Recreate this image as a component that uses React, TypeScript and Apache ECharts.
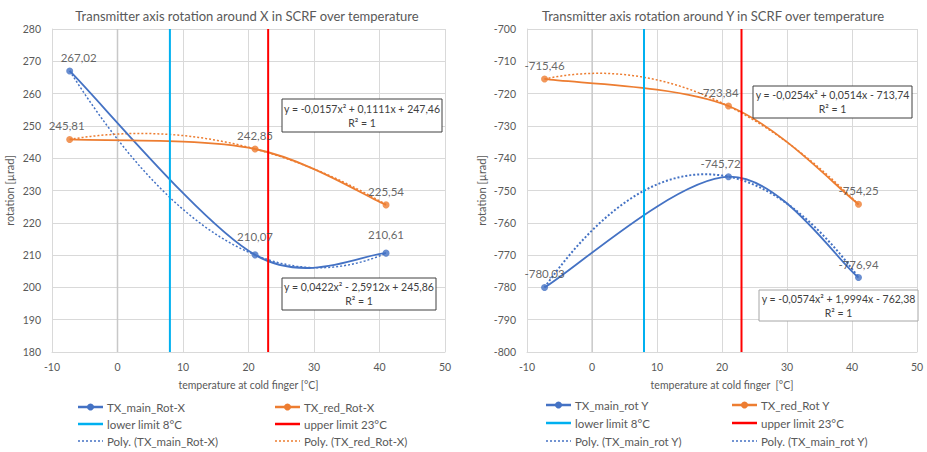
import React, { useEffect, useRef } from "react";
import * as echarts from "echarts";

// ---------- data ----------
const temps = [-7.3, 21, 41];
const txMainRotX = [267.02, 210.07, 210.61];
const txRedRotX = [245.81, 242.85, 225.54];
const txMainRotY = [-780.03, -745.72, -776.94];
const txRedRotY = [-715.46, -723.84, -754.25];
const lowerLimit = 8;
const upperLimit = 23;
// trendline coefficients as displayed on the chart: a*x^2 + b*x + c
const polyMainX = [0.0422, -2.5912, 245.86];
const polyRedX = [-0.0157, 0.1111, 247.46];
const polyMainY = [-0.0574, 1.9994, -762.38];
const polyRedY = [-0.0254, 0.0514, -713.74];
const eqMainX = ["y = 0,0422x² - 2,5912x + 245,86", "R² = 1"];
const eqRedX = ["y = -0,0157x² + 0,1111x + 247,46", "R² = 1"];
const eqMainY = ["y = -0,0574x² + 1,9994x - 762,38", "R² = 1"];
const eqRedY = ["y = -0,0254x² + 0,0514x - 713,74", "R² = 1"];
const xRange = [-10, 50];
const yRangeX = [180, 280];
const yRangeY = [-800, -700];
const tickStep = 10;

const titles = [
  "Transmitter axis rotation around X in SCRF over temperature",
  "Transmitter axis rotation around Y in SCRF over temperature",
];
const xNames = ["temperature at cold finger [°C]", "temperature at cold finger  [°C]"];
const yName = "rotation [µrad]";
const legendLeft = [
  "TX_main_Rot-X",
  "TX_red_Rot-X",
  "lower limit 8°C",
  "upper limit 23°C",
  "Poly. (TX_main_Rot-X)",
  "Poly. (TX_red_Rot-X)",
];
const legendRight = [
  "TX_main_rot Y",
  "TX_red_Rot Y",
  "lower limit 8°C",
  "upper limit 23°C",
  "Poly. (TX_main_rot Y)",
  "Poly. (TX_main_rot Y)",
];

// ---------- styling ----------
const BLUE = "#4472C4";
const ORANGE = "#ED7D31";
const CYAN = "#00B0F0";
const RED = "#FF0000";
const TXT = "#595959";
const FONT = "Lato, 'Open Sans', sans-serif";

function polyPoints(c: number[], x0: number, x1: number) {
  const pts: number[][] = [];
  const n = 120;
  for (let i = 0; i <= n; i++) {
    const x = x0 + ((x1 - x0) * i) / n;
    pts.push([x, c[0] * x * x + c[1] * x + c[2]]);
  }
  return pts;
}

function fmt(v: number) {
  return v.toFixed(2).replace(".", ",");
}

// Excel-like smoothed line (Catmull-Rom style bezier in pixel space)
function smoothSeries(values: number[], color: string, idx: number) {
  return {
    type: "custom",
    xAxisIndex: idx,
    yAxisIndex: idx,
    z: 3,
    silent: true,
    data: temps.map((t, i) => [t, values[i]]),
    renderItem: (params: any, api: any) => {
      if (params.dataIndex !== 0) return null;
      const p = temps.map((t, i) => api.coord([t, values[i]]));
      const n = p.length;
      const tan = p.map((_, i) => {
        const a = p[Math.max(0, i - 1)];
        const b = p[Math.min(n - 1, i + 1)];
        return [(b[0] - a[0]) / 6, (b[1] - a[1]) / 6];
      });
      const children: any[] = [];
      for (let i = 0; i < n - 1; i++) {
        children.push({
          type: "bezierCurve",
          shape: {
            x1: p[i][0],
            y1: p[i][1],
            cpx1: p[i][0] + tan[i][0],
            cpy1: p[i][1] + tan[i][1],
            cpx2: p[i + 1][0] - tan[i + 1][0],
            cpy2: p[i + 1][1] - tan[i + 1][1],
            x2: p[i + 1][0],
            y2: p[i + 1][1],
          },
          style: { stroke: color, lineWidth: 1.8, fill: "none" },
        });
      }
      return { type: "group", children };
    },
  };
}

function pointSeries(
  name: string,
  values: number[],
  color: string,
  idx: number,
  labelOffsets: number[][]
) {
  return {
    name,
    type: "scatter",
    xAxisIndex: idx,
    yAxisIndex: idx,
    symbol: "circle",
    symbolSize: 7,
    z: 5,
    itemStyle: { color },
    data: temps.map((t, i) => ({
      value: [t, values[i]],
      label: { offset: labelOffsets[i] },
    })),
    label: {
      show: true,
      position: "top",
      distance: 4,
      color: "#404040",
      fontFamily: FONT,
      fontSize: 11.5,
      formatter: (p: any) => fmt(p.value[1]),
    },
  };
}

function trendSeries(c: number[], color: string, idx: number, width = 1.5) {
  return {
    type: "line",
    xAxisIndex: idx,
    yAxisIndex: idx,
    symbol: "none",
    smooth: false,
    z: 2,
    lineStyle: { color, width, type: [2, 2] },
    data: polyPoints(c, temps[0], temps[temps.length - 1]),
    silent: true,
  };
}

function vline(x: number, yr: number[], color: string, width: number, idx: number, z = 4) {
  return {
    type: "line",
    xAxisIndex: idx,
    yAxisIndex: idx,
    symbol: "none",
    z,
    lineStyle: { color, width },
    data: [
      [x, yr[0]],
      [x, yr[1]],
    ],
    silent: true,
  };
}

function legendGraphic(labels: string[], colX: number[], rowY: number[], dotted2Color: string) {
  const items: any[] = [];
  const kinds = [
    { color: BLUE, marker: true, dash: false },
    { color: ORANGE, marker: true, dash: false },
    { color: CYAN, marker: false, dash: false },
    { color: RED, marker: false, dash: false },
    { color: BLUE, marker: false, dash: true },
    { color: dotted2Color, marker: false, dash: true },
  ];
  labels.forEach((lab, i) => {
    const cx = colX[i % 2];
    const y = rowY[Math.floor(i / 2)];
    const k = kinds[i];
    items.push({
      type: "line",
      shape: { x1: cx, y1: y, x2: cx + 25, y2: y },
      style: {
        stroke: k.color,
        lineWidth: k.dash ? 1.5 : 2.5,
        lineDash: k.dash ? [2, 2] : null,
      },
    });
    if (k.marker) {
      items.push({
        type: "circle",
        shape: { cx: cx + 12.5, cy: y, r: 3.5 },
        style: { fill: k.color },
      });
    }
    items.push({
      type: "text",
      x: cx + 29,
      y,
      style: {
        text: lab,
        fill: TXT,
        font: `11.5px ${FONT}`,
        textAlign: "left",
        textVerticalAlign: "middle",
      },
    });
  });
  return items;
}

function eqBox(lines: string[], x: number, y: number, w: number, h: number, stroke: string) {
  return [
    {
      type: "rect",
      z: 10,
      shape: { x, y, width: w, height: h },
      style: { fill: "#fff", stroke, lineWidth: 1 },
    },
    {
      type: "text",
      z: 11,
      x: x + w / 2,
      y: y + h / 2 - 7,
      style: {
        text: lines[0],
        fill: "#404040",
        font: `10.5px ${FONT}`,
        textAlign: "center",
        textVerticalAlign: "middle",
      },
    },
    {
      type: "text",
      z: 11,
      x: x + w / 2,
      y: y + h / 2 + 7,
      style: {
        text: lines[1],
        fill: "#404040",
        font: `10.5px ${FONT}`,
        textAlign: "center",
        textVerticalAlign: "middle",
      },
    },
  ];
}

function makeAxes() {
  const grids = [
    { left: 52, top: 29, width: 393, height: 323 },
    { left: 527, top: 29, width: 390, height: 323 },
  ];
  const xAxis = [0, 1].map((i) => ({
    type: "value",
    gridIndex: i,
    min: xRange[0],
    max: xRange[1],
    interval: tickStep,
    name: xNames[i],
    nameLocation: "middle",
    nameGap: 27,
    nameTextStyle: { color: TXT, fontFamily: FONT, fontSize: 10.5 },
    axisLine: { show: true, onZero: false, lineStyle: { color: "#D9D9D9" } },
    axisTick: { show: false },
    axisLabel: { color: TXT, fontFamily: FONT, fontSize: 10.5, margin: 9 },
    splitLine: { show: true, lineStyle: { color: "#D9D9D9", width: 1 } },
  }));
  const yr = [yRangeX, yRangeY];
  const yAxis = [0, 1].map((i) => ({
    type: "value",
    gridIndex: i,
    min: yr[i][0],
    max: yr[i][1],
    interval: tickStep,
    name: yName,
    nameLocation: "middle",
    nameGap: i === 0 ? 37 : 40,
    nameTextStyle: { color: TXT, fontFamily: FONT, fontSize: 11 },
    axisLine: { show: true, onZero: false, lineStyle: { color: "#D9D9D9" } },
    axisTick: { show: false },
    axisLabel: { color: TXT, fontFamily: FONT, fontSize: 10.5, margin: 11 },
    splitLine: { show: true, lineStyle: { color: "#D9D9D9", width: 1 } },
  }));
  return { grids, xAxis, yAxis };
}

export default function App() {
  const ref = useRef<HTMLDivElement>(null);
  useEffect(() => {
    if (!ref.current) return;
    const chart = echarts.init(ref.current, null, { renderer: "svg" });
    const { grids, xAxis, yAxis } = makeAxes();
    const series: any[] = [
      vline(0, yRangeX, "#C8C8C8", 1.5, 0, 1),
      vline(0, yRangeY, "#BFBFBF", 1, 1, 1),
      trendSeries(polyMainX, BLUE, 0),
      trendSeries(polyRedX, ORANGE, 0),
      smoothSeries(txMainRotX, BLUE, 0),
      smoothSeries(txRedRotX, ORANGE, 0),
      pointSeries(legendLeft[0], txMainRotX, BLUE, 0, [[9, 0], [0, -5], [0, -5]]),
      pointSeries(legendLeft[1], txRedRotX, ORANGE, 0, [[-3, 0], [0, 0], [0, 0]]),
      vline(lowerLimit, yRangeX, CYAN, 2, 0),
      vline(upperLimit, yRangeX, RED, 2, 0),
      trendSeries(polyMainY, BLUE, 1, 2),
      trendSeries(polyRedY, ORANGE, 1),
      smoothSeries(txMainRotY, BLUE, 1),
      smoothSeries(txRedRotY, ORANGE, 1),
      pointSeries(legendRight[0], txMainRotY, BLUE, 1, [[0, 0], [-8, 0], [0, 0]]),
      pointSeries(legendRight[1], txRedRotY, ORANGE, 1, [[0, 0], [-10, 0], [0, 0]]),
      vline(lowerLimit, yRangeY, CYAN, 2, 1),
      vline(upperLimit, yRangeY, RED, 2, 1),
    ];
    const graphic: any[] = [
      {
        type: "text",
        x: 247,
        y: 16,
        style: {
          text: titles[0],
          fill: TXT,
          font: `13px ${FONT}`,
          textAlign: "center",
          textVerticalAlign: "middle",
        },
      },
      {
        type: "text",
        x: 713,
        y: 16,
        style: {
          text: titles[1],
          fill: TXT,
          font: `13px ${FONT}`,
          textAlign: "center",
          textVerticalAlign: "middle",
        },
      },
      ...eqBox(eqRedX, 282, 99, 160, 33, "#404040"),
      ...eqBox(eqMainX, 282, 278, 154, 32, "#404040"),
      ...eqBox(eqRedY, 753, 86, 159, 32, "#404040"),
      ...eqBox(eqMainY, 759, 290, 159, 31, "#A6A6A6"),
      ...legendGraphic(legendLeft, [78, 275], [407, 424, 441], ORANGE),
      ...legendGraphic(legendRight, [546, 732], [405, 423, 441], BLUE),
    ];
    chart.setOption({
      animation: false,
      backgroundColor: "#fff",
      grid: grids,
      xAxis,
      yAxis,
      series,
      graphic,
    });
    return () => chart.dispose();
  }, []);
  return (
    <div
      ref={ref}
      style={{ position: "absolute", left: 0, top: 0, width: 927, height: 452 }}
    />
  );
}
